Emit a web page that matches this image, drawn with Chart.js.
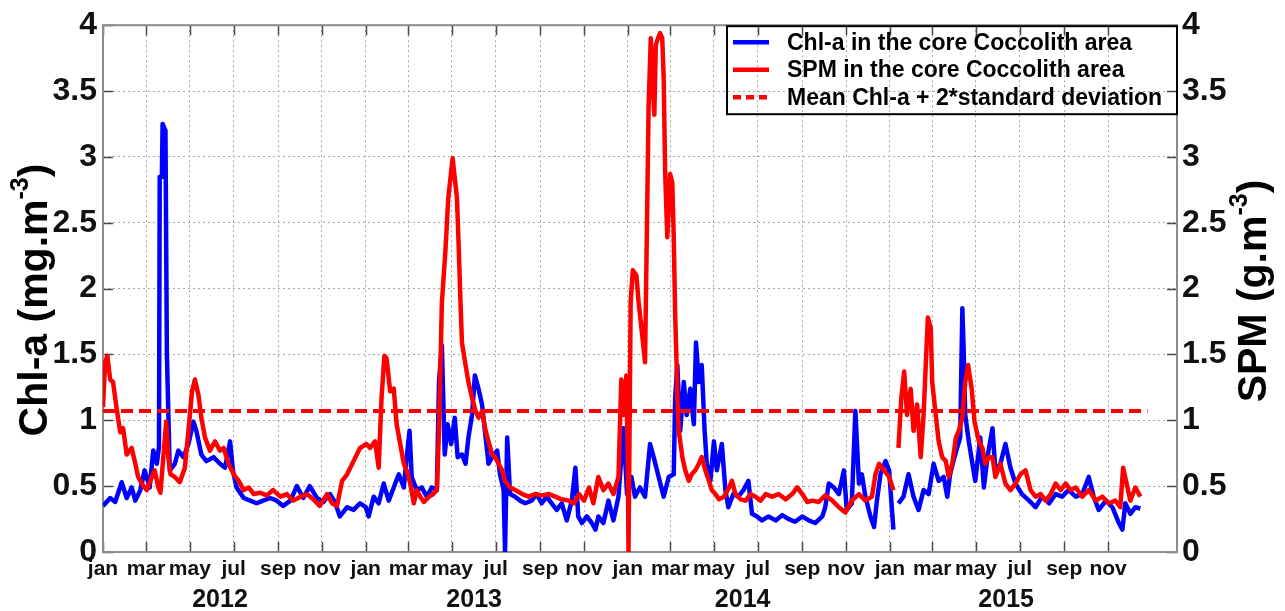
<!DOCTYPE html>
<html>
<head>
<meta charset="utf-8">
<script src="https://cdn.jsdelivr.net/npm/chart.js@4.4.1/dist/chart.umd.min.js"></script>
<style>
html,body{margin:0;padding:0;background:#fff;}
#wrap{width:1285px;height:611px;}
</style>
</head>
<body>
<div id="wrap"><canvas id="c" width="1285" height="611"></canvas></div>
<script>
// ---- Data (x = days since 1 Jan 2012) ----
const chlLabel = 'Chl-a in the core Coccolith area';
const spmLabel = 'SPM in the core Coccolith area';
const thresholdLabel = 'Mean Chl-a + 2*standard deviation';

const chlDays = [
  0,10,17,26,33,40,45,52,58,65,70,75,78,79,82,83,87,89,93,100,105,112,119,126,130,137,144,154,163,170,177,181,186,196,205,214,223,233,242,251,261,270,279,288,298,307,316,323,330,340,349,358,366,
  370,377,384,391,398,405,412,419,423,427,430,437,444,451,458,465,468,472,476,480,485,490,494,500,505,509,514,518,523,528,532,537,542,549,553,558,560,563,567,574,581,588,597,604,611,618,625,632,639,646,653,658,662,667,674,681,686,690,697,704,711,718,725,730,736,
  741,748,755,762,767,774,781,788,795,797,800,804,809,813,818,823,826,830,834,838,841,846,851,855,862,867,871,878,885,892,899,904,911,918,927,937,946,955,964,974,983,992,1002,1006,1011,1018,1025,1032,1036,1043,1048,1053,1057,1062,1069,1074,1078,1083,1090,1095,1101,1105,
  1108,1115,1122,1129,1136,1143,1150,1157,1164,1171,1176,1180,1187,1194,1197,1199,1201,1206,1211,1215,1222,1227,1232,1239,1243,1250,1257,1264,1271,1280,1290,1299,1308,1318,1327,1336,1345,1355,1364,1373,1380,1387,1397,1406,1415,1420,1424,1431,1438,1445
];
const chlValues = [
  0.35,0.41,0.38,0.53,0.41,0.49,0.39,0.47,0.62,0.49,0.77,0.67,0.80,2.85,2.85,3.25,3.20,1.50,0.62,0.67,0.77,0.72,0.82,0.99,0.92,0.74,0.69,0.72,0.67,0.64,0.84,0.62,0.49,0.41,0.39,0.37,0.39,0.41,0.39,0.35,0.39,0.50,0.41,0.50,0.41,0.38,0.44,0.38,0.27,0.34,0.32,0.37,0.34,
  0.27,0.42,0.37,0.52,0.39,0.49,0.59,0.49,0.72,0.92,0.57,0.47,0.49,0.42,0.49,0.47,1.29,1.57,0.74,0.97,0.82,1.02,0.72,0.74,0.67,0.87,1.04,1.34,1.24,1.12,0.92,0.67,0.72,0.77,0.59,0.47,0.00,0.87,0.44,0.42,0.39,0.37,0.39,0.44,0.37,0.42,0.37,0.32,0.37,0.24,0.39,0.64,0.27,0.22,0.27,0.22,0.17,0.27,0.22,0.39,0.24,0.42,0.94,0.44,0.57,
  0.42,0.49,0.42,0.82,0.72,0.57,0.42,0.57,0.59,1.17,1.42,0.92,1.29,1.04,1.24,0.97,1.59,1.29,1.42,0.92,0.67,0.54,0.84,0.62,0.82,0.47,0.34,0.44,0.42,0.47,0.54,0.29,0.27,0.24,0.27,0.24,0.28,0.25,0.23,0.27,0.24,0.22,0.27,0.34,0.52,0.49,0.44,0.62,0.32,0.37,1.07,0.52,0.59,0.42,0.27,0.19,0.39,0.59,0.69,0.62,0.17,null,
  0.37,0.42,0.59,0.42,0.32,0.47,0.44,0.67,0.54,0.57,0.42,0.59,0.74,0.87,1.85,1.50,1.04,0.84,0.67,0.54,0.87,0.49,0.72,0.94,0.62,0.67,0.82,0.64,0.52,0.44,0.39,0.34,0.42,0.37,0.44,0.42,0.47,0.42,0.44,0.57,0.42,0.32,0.39,0.34,0.22,0.17,0.37,0.29,0.34,0.33
];

const spmDays = [
  0,3,6,10,14,19,24,28,33,40,45,49,54,61,68,72,77,80,84,88,91,94,100,107,114,119,124,128,133,137,142,149,156,163,168,175,182,189,196,203,210,219,228,237,247,256,265,275,284,293,302,312,319,326,333,340,349,358,367,
  372,379,384,388,392,395,400,405,409,414,419,423,428,433,437,442,447,454,460,465,468,472,477,481,487,493,495,498,500,505,509,514,519,523,528,533,537,542,546,551,556,560,567,574,584,593,602,611,621,630,639,649,656,663,670,677,683,690,697,704,711,718,722,725,729,731,
  732,735,738,743,746,749,752,755,758,760,763,766,768,770,773,776,779,781,783,786,788,790,793,795,797,799,800,802,807,811,816,820,825,830,834,839,844,848,853,858,865,872,876,881,888,895,902,909,916,923,932,941,951,960,967,974,981,988,997,1006,1016,1025,1034,1043,1053,1062,1071,1076,1081,1088,1095,1101,1105,
  1108,1112,1116,1120,1125,1129,1134,1139,1143,1147,1149,1153,1155,1160,1164,1169,1174,1178,1183,1188,1192,1197,1201,1205,1210,1214,1220,1225,1229,1234,1239,1243,1250,1257,1264,1271,1278,1285,1292,1299,1306,1313,1320,1327,1334,1341,1348,1355,1364,1373,1383,1392,1401,1410,1417,1421,1425,1431,1438,1445
];
const spmValues = [
  1.10,1.44,1.49,1.31,1.29,1.09,0.91,0.94,0.74,0.79,0.67,0.57,0.52,0.47,0.57,0.62,0.49,0.45,0.72,0.99,0.72,0.59,0.57,0.53,0.64,0.92,1.22,1.31,1.19,1.02,0.87,0.77,0.84,0.77,0.79,0.67,0.59,0.54,0.47,0.49,0.44,0.45,0.43,0.47,0.42,0.44,0.39,0.42,0.44,0.40,0.35,0.44,0.37,0.35,0.54,0.59,0.69,0.79,0.82,
  0.79,0.84,0.64,1.17,1.49,1.47,1.22,1.24,0.97,0.82,0.67,0.62,0.52,0.37,0.47,0.42,0.38,0.42,0.44,0.47,0.92,1.89,2.29,2.69,2.99,2.69,2.39,1.89,1.59,1.42,1.29,1.17,1.07,1.02,1.07,0.92,0.84,0.74,0.72,0.67,0.62,0.54,0.49,0.47,0.44,0.42,0.44,0.43,0.44,0.42,0.40,0.39,0.37,0.44,0.39,0.49,0.37,0.57,0.47,0.52,0.44,0.57,1.31,1.04,1.34,0.70,
  0.00,1.90,2.14,2.10,1.90,1.75,1.60,1.44,2.60,3.39,3.90,3.50,3.32,3.85,3.90,3.94,3.90,3.60,2.89,2.39,2.60,2.87,2.80,2.39,1.80,1.42,1.17,0.92,0.72,0.62,0.54,0.59,0.62,0.67,0.72,0.62,0.54,0.47,0.44,0.40,0.42,0.49,0.54,0.44,0.40,0.39,0.44,0.42,0.39,0.44,0.42,0.44,0.40,0.44,0.49,0.44,0.38,0.39,0.38,0.43,0.39,0.34,0.30,0.39,0.44,0.39,0.42,0.59,0.67,0.62,0.57,0.47,null,
  0.79,1.17,1.37,1.04,1.24,0.92,1.12,0.72,1.04,1.54,1.78,1.70,1.29,1.04,0.84,0.72,0.69,0.57,0.67,0.87,0.92,1.02,1.29,1.42,1.24,0.99,0.84,0.79,0.67,0.72,0.72,0.57,0.67,0.52,0.47,0.52,0.59,0.62,0.47,0.42,0.44,0.39,0.44,0.52,0.47,0.52,0.47,0.49,0.42,0.47,0.39,0.42,0.37,0.39,0.34,0.64,0.54,0.39,0.49,0.42
];

const thresholdDays = [0, 1455];
const thresholdValues = [1.07, 1.07];

const monthTickDays = [0,60,121,182,244,305, 366,425,486,547,609,670, 731,790,851,912,974,1035, 1096,1155,1216,1277,1339,1400];
const monthTickLabels = ['jan','mar','may','jul','sep','nov','jan','mar','may','jul','sep','nov','jan','mar','may','jul','sep','nov','jan','mar','may','jul','sep','nov'];
const yearLabels = ['2012','2013','2014','2015'];
const yearLabelDays = [163, 517, 891, 1258];
const yTickValues = [0,0.5,1,1.5,2,2.5,3,3.5,4];
const yTickLabels = ['0','0.5','1','1.5','2','2.5','3','3.5','4'];

if (chlDays.length !== chlValues.length) throw new Error('chl length mismatch ' + chlDays.length + ' ' + chlValues.length);
if (spmDays.length !== spmValues.length) throw new Error('spm length mismatch ' + spmDays.length + ' ' + spmValues.length);

// ---- Chart ----
const FONT = "'Liberation Sans', Arial, Helvetica, sans-serif";
const BLUE = '#0000ff', RED = '#ff0000';
const X_MAX = 1496;

const toPts = (xs, ys) => xs.map((d, i) => ({x: d, y: ys[i]}));

function drawRotatedTitle(ctx, cx, cy, main, sup, tail, size) {
  ctx.save();
  ctx.translate(cx, cy);
  ctx.rotate(-Math.PI / 2);
  const f1 = `bold ${size}px ${FONT}`;
  const f2 = `bold ${Math.round(size * 0.6)}px ${FONT}`;
  ctx.font = f1;
  const w1 = ctx.measureText(main).width;
  const w3 = ctx.measureText(tail).width;
  ctx.font = f2;
  const w2 = ctx.measureText(sup).width;
  let xx = -(w1 + w2 + w3) / 2;
  const base = size * 0.36;
  ctx.fillStyle = '#000';
  ctx.textBaseline = 'alphabetic';
  ctx.textAlign = 'left';
  ctx.font = f1; ctx.fillText(main, xx, base); xx += w1;
  ctx.font = f2; ctx.fillText(sup, xx, base - size * 0.45); xx += w2;
  ctx.font = f1; ctx.fillText(tail, xx, base);
  ctx.restore();
}

const decor = {
  id: 'decor',
  beforeDatasetsDraw(chart) {
    const {ctx, chartArea: a, scales} = chart;
    const x = scales.x, y = scales.y;
    ctx.save();
    ctx.strokeStyle = '#4a4a4a';
    ctx.lineWidth = 1.5;
    ctx.beginPath();
    x.ticks.forEach(t => {
      const p = Math.round(x.getPixelForValue(t.value)) + 0.5;
      ctx.moveTo(p, a.bottom); ctx.lineTo(p, a.bottom - 10);
      ctx.moveTo(p, a.top); ctx.lineTo(p, a.top + 10);
    });
    y.ticks.forEach(t => {
      const p = Math.round(y.getPixelForValue(t.value)) + 0.5;
      ctx.moveTo(a.left, p); ctx.lineTo(a.left + 10, p);
      ctx.moveTo(a.right, p); ctx.lineTo(a.right - 10, p);
    });
    ctx.stroke();
    ctx.strokeStyle = '#8c8c8c';
    ctx.lineWidth = 2;
    ctx.strokeRect(a.left, a.top, a.right - a.left, a.bottom - a.top);
    ctx.restore();
  },
  afterDraw(chart) {
    const {ctx, chartArea: a} = chart;
    ctx.save();
    const w = 450, h = 88;
    const lx = a.right - w, ly = a.top + 1;
    ctx.strokeStyle = '#000';
    ctx.lineWidth = 2;
    ctx.strokeRect(lx, ly, w, h);
    const items = [
      {label: chart.data.datasets[0].label, color: BLUE, dash: []},
      {label: chart.data.datasets[1].label, color: RED, dash: []},
      {label: chart.data.datasets[2].label, color: RED, dash: [8, 5]}
    ];
    ctx.font = `bold 23px ${FONT}`;
    ctx.textBaseline = 'middle';
    ctx.textAlign = 'left';
    items.forEach((it, i) => {
      const cy = ly + 16 + i * 27.5;
      ctx.save();
      ctx.strokeStyle = it.color;
      ctx.lineWidth = 4.5;
      ctx.setLineDash(it.dash);
      ctx.beginPath();
      ctx.moveTo(lx + 6, cy); ctx.lineTo(lx + 42, cy);
      ctx.stroke();
      ctx.restore();
      ctx.fillStyle = '#000';
      ctx.fillText(it.label, lx + 60, cy + 1);
    });
    ctx.restore();
    drawRotatedTitle(ctx, 32, 300, 'Chl-a (mg.m', '-3', ')', 41);
    drawRotatedTitle(ctx, 1251, 291, 'SPM (g.m', '-3', ')', 41);
  }
};

const tickFontY = {family: FONT, size: 32, weight: 'bold'};

new Chart(document.getElementById('c'), {
  type: 'line',
  data: {
    datasets: [
      {label: chlLabel, data: toPts(chlDays, chlValues), borderColor: BLUE, backgroundColor: BLUE,
       borderWidth: 4.5, pointRadius: 0, yAxisID: 'y', order: 3, spanGaps: false, borderJoinStyle: 'round'},
      {label: spmLabel, data: toPts(spmDays, spmValues), borderColor: RED, backgroundColor: RED,
       borderWidth: 4.5, pointRadius: 0, yAxisID: 'y2', order: 2, spanGaps: false, borderJoinStyle: 'round'},
      {label: thresholdLabel, data: toPts(thresholdDays, thresholdValues), borderColor: RED, backgroundColor: RED,
       borderWidth: 4, borderDash: [12, 6], pointRadius: 0, yAxisID: 'y', order: 1}
    ]
  },
  options: {
    responsive: false,
    animation: false,
    devicePixelRatio: 1,
    layout: {padding: {top: 19, left: 0, right: 0, bottom: 0}},
    plugins: {legend: {display: false}, tooltip: {enabled: false}},
    elements: {line: {tension: 0}},
    scales: {
      x: {
        type: 'linear', position: 'bottom', min: 0, max: X_MAX, weight: 0,
        afterBuildTicks: s => { s.ticks = monthTickDays.map(v => ({value: v})); },
        afterFit: s => { s.height = 30; },
        ticks: {autoSkip: false, maxRotation: 0, padding: 5, color: '#111',
                font: {family: FONT, size: 21, weight: 'bold'},
                callback: (v, i) => monthTickLabels[i]},
        grid: {display: true, color: '#a8a8a8', lineWidth: 1, drawTicks: false},
        border: {display: false, dash: [2, 3]}
      },
      x2: {
        type: 'linear', position: 'bottom', min: 0, max: X_MAX, weight: 1,
        afterBuildTicks: s => { s.ticks = yearLabelDays.map(v => ({value: v})); },
        afterFit: s => { s.height = 29; },
        ticks: {autoSkip: false, maxRotation: 0, padding: 3, color: '#111',
                font: {family: FONT, size: 25, weight: 'bold'},
                callback: (v, i) => yearLabels[i]},
        grid: {display: false, drawTicks: false},
        border: {display: false}
      },
      y: {
        type: 'linear', position: 'left', min: 0, max: 4,
        afterBuildTicks: s => { s.ticks = yTickValues.map(v => ({value: v})); },
        afterFit: s => { s.width = 103; },
        ticks: {padding: 6, color: '#111', font: tickFontY, callback: (v, i) => yTickLabels[i]},
        grid: {display: true, color: '#a8a8a8', lineWidth: 1, drawTicks: false},
        border: {display: false, dash: [2, 3]}
      },
      y2: {
        type: 'linear', position: 'right', min: 0, max: 4,
        afterBuildTicks: s => { s.ticks = yTickValues.map(v => ({value: v})); },
        afterFit: s => { s.width = 108; },
        ticks: {padding: 5, color: '#111', font: tickFontY, callback: (v, i) => yTickLabels[i]},
        grid: {display: false, drawTicks: false},
        border: {display: false}
      }
    }
  },
  plugins: [decor]
});
</script>
</body>
</html>
